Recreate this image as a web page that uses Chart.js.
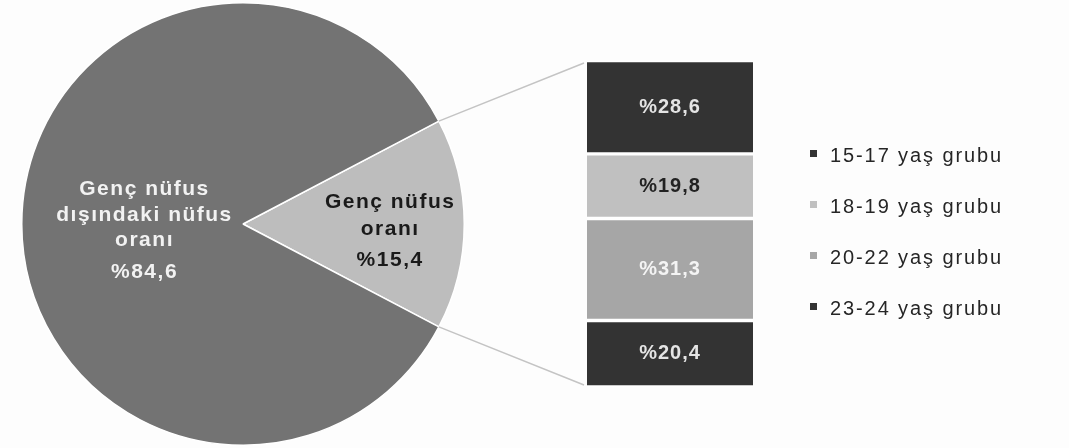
<!DOCTYPE html>
<html lang="tr">
<head>
<meta charset="utf-8">
<title>Genç nüfus oranı</title>
<script src="https://cdn.jsdelivr.net/npm/chart.js@4.4.1/dist/chart.umd.min.js"></script>
<style>
  html, body { margin: 0; padding: 0; background: #fdfdfd; }
  #wrap { position: relative; width: 1069px; height: 448px; overflow: hidden; }
  canvas { position: absolute; top: 0; left: 0; }
</style>
</head>
<body>
<div id="wrap">
  <canvas id="pie" width="486" height="448"></canvas>
  <canvas id="bar" width="1069" height="448"></canvas>
</div>
<script>
// pasta dilimleri (önce genç nüfus, 3 yönünde ortalanıyor)
const pieLabels = ['Genç nüfus oranı', 'Genç nüfus dışındaki nüfus oranı'];
const pieValues = [15.4, 84.6];
const pieLines = [['Genç nüfus', 'oranı'], ['Genç nüfus', 'dışındaki nüfus', 'oranı']];

// yaş grupları (yukarıdan aşağıya)
const groupLabels = ['15-17 yaş grubu', '18-19 yaş grubu', '20-22 yaş grubu', '23-24 yaş grubu'];
const groupValues = [28.6, 19.8, 31.3, 20.4];

const pieColors = ['#bdbdbd', '#737373'];
const pieTextColors = ['#1a1a1a', '#f2f2f2'];
const groupColors = ['#333333', '#c0c0c0', '#a6a6a6', '#333333'];
const groupTextColors = ['#e4e4e4', '#222222', '#f4f4f4', '#e4e4e4'];

Chart.defaults.font.family = '"Liberation Sans", Arial, sans-serif';

const fmt = v => '%' + v.toFixed(1).replace('.', ',');

function setFont(ctx, size, bold, spacing) {
    ctx.font = (bold ? 'bold ' : '') + size + 'px "Liberation Sans", Arial, sans-serif';
    ctx.letterSpacing = spacing + 'px';
}

// pasta etiketleri
const pieLabelPlugin = {
    id: 'pieLabels',
    afterDatasetsDraw(chart) {
        const ctx = chart.ctx;
        const arcs = chart.getDatasetMeta(0).data;
        ctx.save();
        ctx.textAlign = 'center';
        ctx.textBaseline = 'alphabetic';
        setFont(ctx, 21, true, 1.5);
        arcs.forEach((arc, i) => {
            const mid = (arc.startAngle + arc.endAngle) / 2;
            const k = i === 0 ? 0.665 : 0.445;
            const cx = arc.x + Math.cos(mid) * arc.outerRadius * k;
            const lines = pieLines[i];
            const start = i === 0 ? -16 : -29;
            const step = i === 0 ? 27 : 25.5;
            ctx.fillStyle = pieTextColors[i];
            lines.forEach((t, j) => ctx.fillText(t, cx, arc.y + start + j * step));
            const lastY = arc.y + start + (lines.length - 1) * step;
            ctx.fillText(fmt(pieValues[i]), cx, lastY + (i === 0 ? 31 : 32));
        });
        ctx.restore();
    }
};

const pieChart = new Chart(document.getElementById('pie'), {
    type: 'pie',
    data: {
        labels: pieLabels,
        datasets: [{
            data: pieValues,
            backgroundColor: pieColors,
            borderColor: '#ffffff',
            borderWidth: 1.5
        }]
    },
    options: {
        responsive: false,
        animation: false,
        devicePixelRatio: 1,
        rotation: 90 - pieValues[0] / 100 * 180,
        layout: { padding: 2 },
        plugins: { legend: { display: false }, tooltip: { enabled: false } }
    },
    plugins: [pieLabelPlugin]
});

// çubuk: bağlantı çizgileri, değerler ve lejant
const barExtras = {
    id: 'barExtras',
    beforeDatasetsDraw(chart) {
        const ctx = chart.ctx;
        const arc = pieChart.getDatasetMeta(0).data[0];
        const area = chart.chartArea;
        const r = arc.outerRadius;
        ctx.save();
        ctx.strokeStyle = '#c4c4c4';
        ctx.lineWidth = 1.5;
        ctx.beginPath();
        ctx.moveTo(arc.x + Math.cos(arc.startAngle) * r, arc.y + Math.sin(arc.startAngle) * r);
        ctx.lineTo(area.left - 3, area.top + 2);
        ctx.moveTo(arc.x + Math.cos(arc.endAngle) * r, arc.y + Math.sin(arc.endAngle) * r);
        ctx.lineTo(area.left - 3, area.bottom - 2);
        ctx.stroke();
        ctx.restore();
    },
    afterDatasetsDraw(chart) {
        const ctx = chart.ctx;
        ctx.save();
        ctx.textAlign = 'center';
        ctx.textBaseline = 'middle';
        setFont(ctx, 20, true, 1);
        chart.data.datasets.forEach((ds, d) => {
            const bar = chart.getDatasetMeta(d).data[0];
            const g = groupLabels.indexOf(ds.label);
            ctx.fillStyle = groupTextColors[g];
            ctx.fillText(fmt(ds.data[0]), bar.x, (bar.y + bar.base) / 2);
        });
        // lejant
        ctx.textAlign = 'left';
        ctx.textBaseline = 'alphabetic';
        setFont(ctx, 20, false, 1.9);
        groupLabels.forEach((lab, i) => {
            const y = 162 + i * 51;
            ctx.fillStyle = groupColors[i];
            ctx.fillRect(810, y - 12, 7, 7);
            ctx.fillStyle = '#262626';
            ctx.fillText(lab, 830, y);
        });
        ctx.restore();
    }
};

// yığın altta 23-24 ile başlar
const order = [3, 2, 1, 0];
new Chart(document.getElementById('bar'), {
    type: 'bar',
    data: {
        labels: ['Genç nüfus'],
        datasets: order.map(i => ({
            label: groupLabels[i],
            data: [groupValues[i]],
            backgroundColor: groupColors[i],
            borderColor: '#ffffff',
            borderWidth: { top: 2, bottom: 2, left: 0, right: 0 },
            borderSkipped: false,
            barPercentage: 1,
            categoryPercentage: 1
        }))
    },
    options: {
        responsive: false,
        animation: false,
        devicePixelRatio: 1,
        layout: { padding: { left: 587, right: 316, top: 61, bottom: 61 } },
        scales: {
            x: { stacked: true, display: false },
            y: { stacked: true, display: false, min: 0, max: 100 }
        },
        plugins: { legend: { display: false }, tooltip: { enabled: false } }
    },
    plugins: [barExtras]
});
</script>
</body>
</html>
